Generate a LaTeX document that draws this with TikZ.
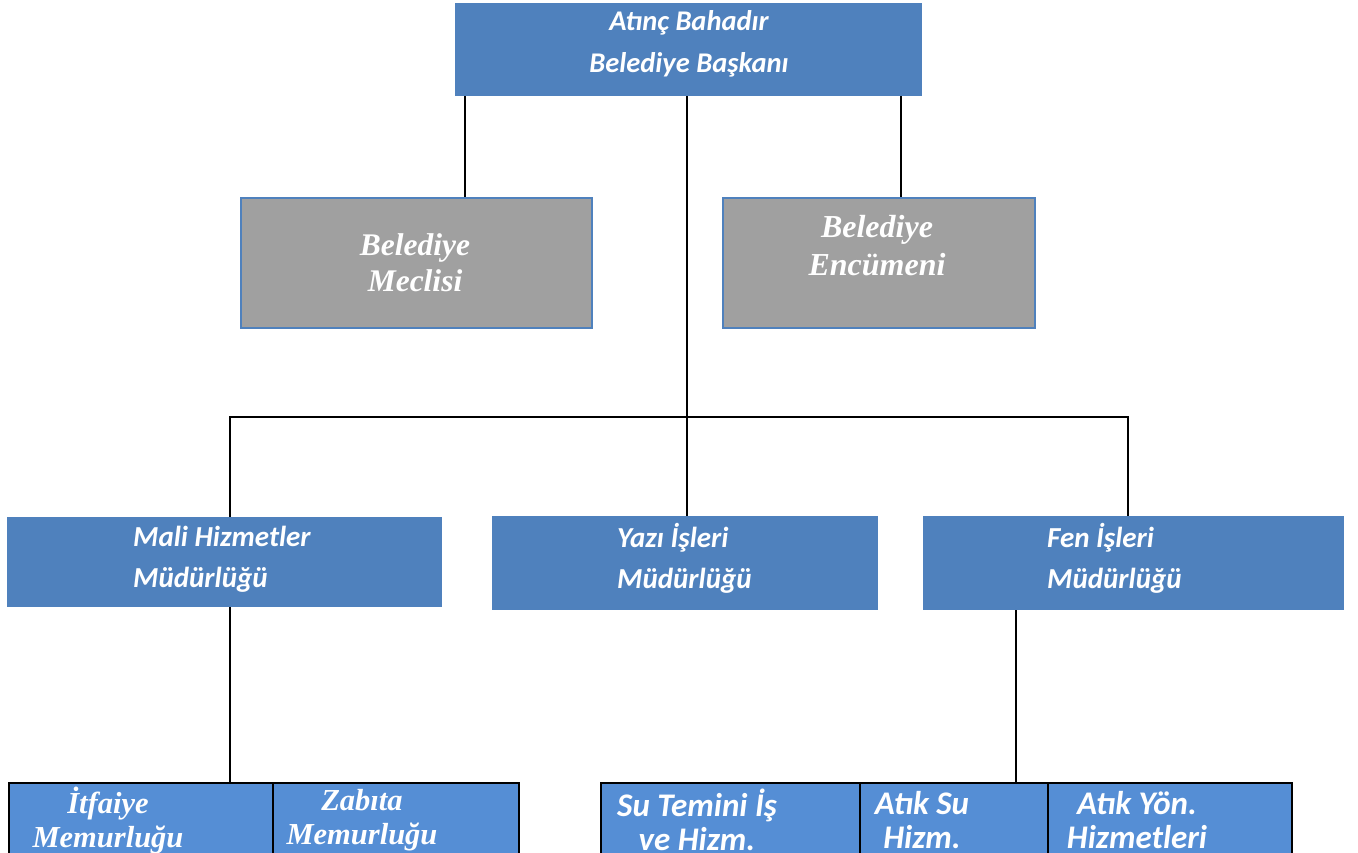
\documentclass[tikz,border=0pt]{standalone}
\usepackage{fontspec}
\setmainfont{Carlito}
\newfontfamily\tnr{Liberation Serif}
\definecolor{hdblue}{HTML}{4F81BD}
\definecolor{lowblue}{HTML}{558ED5}
\definecolor{grayfill}{HTML}{A0A0A0}
\tikzset{
  x=1pt, y=-1pt,
  bluebox/.style={fill=hdblue, draw=none, anchor=north west, inner sep=0pt},
  graybox/.style={fill=grayfill, draw=hdblue, line width=1.5pt, anchor=north west, inner sep=0pt},
  lowbox/.style={fill=lowblue, draw=black, line width=2pt, anchor=north west, inner sep=0pt},
  wtxt/.style={text=white, font=\bfseries\itshape, inner sep=0pt},
  conn/.style={draw=black, line width=1.5pt},
}
\begin{document}
\begin{tikzpicture}
\useasboundingbox (0,0) rectangle (1358,852);
\clip (0,0) rectangle (1358,852);
% boxes
\node[bluebox, minimum width=467pt, minimum height=93pt] (top) at (455,3) {};
\node[graybox, minimum width=351pt, minimum height=130pt] (meclis) at (240,197) {};
\node[graybox, minimum width=312pt, minimum height=130pt] (encumen) at (722,197) {};
\node[bluebox, minimum width=435pt, minimum height=90pt] (mali) at (7,517) {};
\node[bluebox, minimum width=386pt, minimum height=94pt] (yazi) at (492,516) {};
\node[bluebox, minimum width=421pt, minimum height=94pt] (fen) at (923,516) {};
\node[lowbox, minimum width=264pt, minimum height=100pt] (itf) at (8,782) {};
\node[lowbox, minimum width=246pt, minimum height=100pt] (zab) at (272,782) {};
\node[lowbox, minimum width=259pt, minimum height=100pt] (sut) at (600,782) {};
\node[lowbox, minimum width=188pt, minimum height=100pt] (atsu) at (859,782) {};
\node[lowbox, minimum width=244pt, minimum height=100pt] (atyon) at (1047,782) {};
% texts
\node[wtxt, align=center, font=\fontsize{28.5}{42}\selectfont\bfseries\itshape] (ttop) at (689,44) {Atınç Bahadır\\Belediye Başkanı};
\node[wtxt, align=center, font=\fontsize{31.5}{36}\selectfont\tnr\bfseries\itshape] (tmec) at (415,263) {Belediye\\Meclisi};
\node[wtxt, align=center, font=\fontsize{32}{38}\selectfont\tnr\bfseries\itshape] (tenc) at (877,246) {Belediye\\Encümeni};
\node[wtxt, align=left, anchor=west, font=\fontsize{29}{41}\selectfont\bfseries\itshape] (tmali) at (133,559) {Mali Hizmetler\\Müdürlüğü};
\node[wtxt, align=left, anchor=west, font=\fontsize{29}{41}\selectfont\bfseries\itshape] (tyazi) at (617,558) {Yazı İşleri\\Müdürlüğü};
\node[wtxt, align=left, anchor=west, font=\fontsize{29}{41}\selectfont\bfseries\itshape] (tfen) at (1047,558) {Fen İşleri\\Müdürlüğü};
\node[wtxt, align=center, font=\fontsize{30.5}{34}\selectfont\tnr\bfseries\itshape] (titf) at (108,820) {İtfaiye\\Memurluğu};
\node[wtxt, align=center, font=\fontsize{30.5}{34}\selectfont\tnr\bfseries\itshape] (tzab) at (362,820) {Zabıta\\Memurluğu};
\node[wtxt, align=center, font=\fontsize{33}{34}\selectfont\bfseries\itshape] (tsut) at (697,820) {Su Temini İş\\ve Hizm.};
\node[wtxt, align=center, font=\fontsize{33}{34}\selectfont\bfseries\itshape] (tatsu) at (922,820) {Atık Su\\Hizm.};
\node[wtxt, align=center, font=\fontsize{33}{34}\selectfont\bfseries\itshape] (tatyon) at (1137,820) {Atık Yön.\\Hizmetleri};
% connector points
\coordinate (mecin) at (465,197);
\coordinate (encin) at (901,197);
\coordinate (bus) at (687,417);
\coordinate (busl) at (230,417);
\coordinate (busr) at (1128,417);
\coordinate (malin) at (230,517);
\coordinate (yaziin) at (687,516);
\coordinate (fenin) at (1128,516);
\coordinate (malout) at (230,607);
\coordinate (lowl) at (230,782);
\coordinate (fenout) at (1016,610);
\coordinate (lowr) at (1016,782);
% connectors
\draw[conn] (top.south -| mecin) -- (mecin);
\draw[conn] (top.south -| encin) -- (encin);
\draw[conn] (top.south -| bus) -- (yaziin);
\draw[conn] (malin) -- (busl) -- (busr) -- (fenin);
\draw[conn] (malout) -- (lowl);
\draw[conn] (fenout) -- (lowr);
\end{tikzpicture}
\end{document}
